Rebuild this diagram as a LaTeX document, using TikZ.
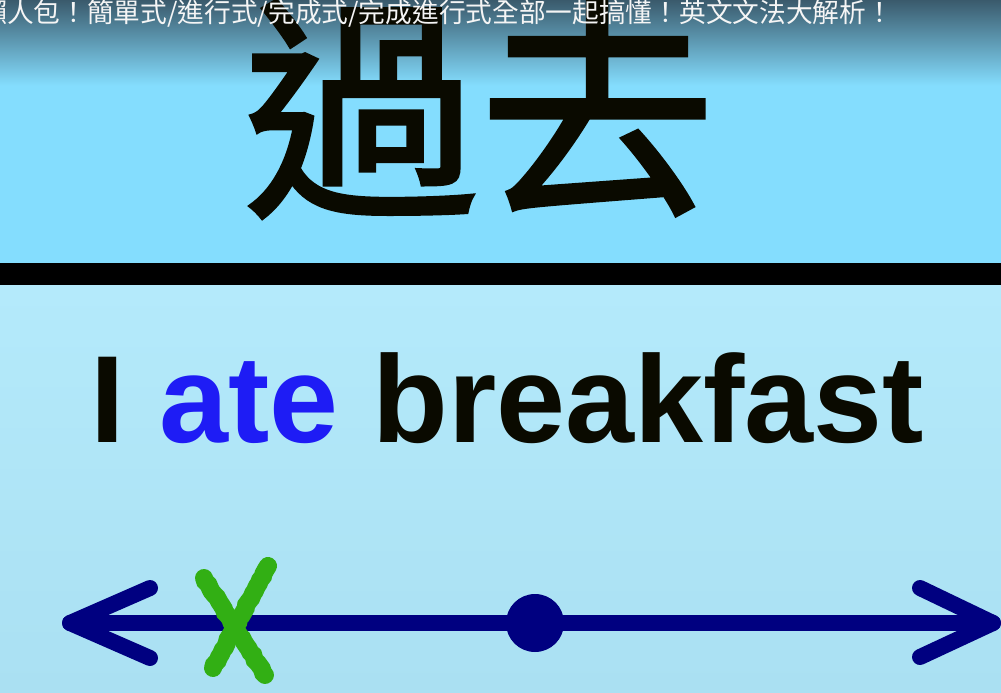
\documentclass[tikz,border=0pt]{standalone}
\usepackage{fontspec}
\setmainfont{Liberation Sans}
\newfontfamily\cjk{Noto Sans CJK TC}
\newfontfamily\cjkbig[FakeBold=1.6]{Noto Sans CJK TC}
\usetikzlibrary{decorations.pathmorphing}
\definecolor{topblue}{RGB}{132,221,254}
\definecolor{topdark}{RGB}{58,90,108}
\definecolor{lowblue}{RGB}{180,234,251}
\definecolor{lowblue2}{RGB}{170,224,242}
\definecolor{navy}{RGB}{0,0,128}
\definecolor{verbblue}{RGB}{30,28,245}
\definecolor{xgreen}{RGB}{50,175,20}
\definecolor{inkblack}{RGB}{10,10,0}
\tikzset{
  timeline/.style={draw=navy,line width=16pt,line cap=round,line join=round},
  xstroke/.style={draw=xgreen,line width=18pt,line cap=round,
    decorate,decoration={random steps,segment length=4pt,amplitude=0.8pt}},
  titletext/.style={inner sep=0pt,anchor=base west,text=white!92!gray,
    font=\cjk\fontsize{26.7}{27}\selectfont},
}
\begin{document}
\begin{tikzpicture}[x=1pt,y=1pt]
\useasboundingbox (0,0) rectangle (1001,-693);
% backgrounds
\fill[topblue] (0,-85) rectangle (1001,-264);
\shade[top color=topdark,bottom color=topblue] (0,0) rectangle (1001,-85.5);
\shade[top color=lowblue,bottom color=lowblue2] (0,-285) rectangle (1001,-693);
\fill[black] (0,-263) rectangle (1001,-285);
% big title
\node[inner sep=0pt,anchor=base west,text=inkblack,
  font=\cjkbig\fontsize{236}{236}\selectfont] (past) at (243,-199) {過去};
% top caption
\node[titletext] (caption) at (-19.7,-23)
  {懶人包！簡單式/進行式/完成式/完成進行式全部一起搞懂！英文文法大解析！};
% sentence
\node[inner sep=0pt,anchor=base west,text=inkblack,
  font=\bfseries\fontsize{124}{124}\selectfont] (sentence) at (90,-442)
  {I \textcolor{verbblue}{ate} breakfast};
% timeline
\coordinate (lt) at (70,-623);
\coordinate (rt) at (993,-623);
\coordinate (lu) at (150,-588);
\coordinate (ld) at (150,-658);
\coordinate (ru) at (920,-588);
\coordinate (rd) at (920,-657);
\draw[timeline] (lt) -- (rt);
\draw[timeline] (lu) -- (lt) -- (ld);
\draw[timeline] (ru) -- (rt) -- (rd);
\node[circle,fill=navy,minimum size=58pt,inner sep=0pt] (now) at (535,-623) {};
% green X
\coordinate (xa) at (204,-578);
\coordinate (xb) at (265,-675);
\coordinate (xc) at (268,-566);
\coordinate (xd) at (213,-668);
\draw[xstroke] (xa) -- (xb);
\draw[xstroke] (xc) -- (xd);
\end{tikzpicture}
\end{document}
